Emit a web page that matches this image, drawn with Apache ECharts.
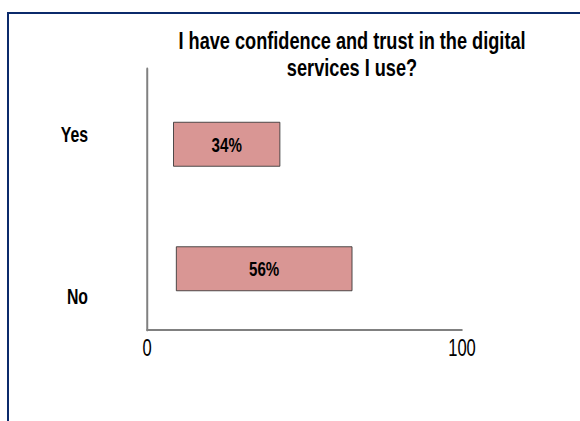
<!DOCTYPE html>
<html>
<head>
<meta charset="utf-8">
<script src="https://cdn.jsdelivr.net/npm/echarts@6/dist/echarts.min.js"></script>
<style>
  html, body { margin: 0; padding: 0; background: #fff; overflow: hidden; }
  #frame { position: absolute; left: 7px; top: 12px; width: 600px; height: 450px;
           border-left: 2px solid #0b2a6b; border-top: 2px solid #0b2a6b; }
  /* The chart is laid out wider and squeezed horizontally to get a narrow typeface look */
  #chart { position: absolute; left: 0; top: 0; height: 421px;
           transform-origin: 0 0; }
</style>
</head>
<body>
<div id="frame"></div>
<div id="chart"></div>
<script>
// Survey answers and their shares (percent)
const categories = ['Yes', 'No'];
const percentValues = [34, 56];
// Empty lead-in before each bar, in axis units
const leadGap = [8.3, 9.2];
// Value axis tick labels
const tickLabels = [0, 100];
const titleText = 'I have confidence and trust in the digital\nservices I use?';

const SQUEEZE = 0.72;
const TITLE_SQUEEZE = 0.79;
const W = 580 / SQUEEZE;
const px = function (x) { return x / SQUEEZE; };

const el = document.getElementById('chart');
el.style.width = W + 'px';
el.style.transform = 'scaleX(' + SQUEEZE + ')';

const FONT = '"Liberation Sans", Arial, sans-serif';
const chart = echarts.init(el, null, { renderer: 'svg', width: W, height: 421 });

chart.setOption({
  animation: false,
  graphic: [
    {
      type: 'text',
      x: px(352),
      y: 27,
      scaleX: TITLE_SQUEEZE / SQUEEZE,
      style: {
        text: titleText,
        align: 'center',
        verticalAlign: 'top',
        fontFamily: FONT,
        fontWeight: 'bold',
        fontSize: 23,
        lineHeight: 27,
        fill: '#000'
      }
    }
  ],
  grid: [
    { left: px(147), right: px(118), top: 69, bottom: 91 },
    { left: px(147), right: px(118), top: 82, height: 249 }
  ],
  xAxis: [
    {
      gridIndex: 0, type: 'value', min: tickLabels[0], max: tickLabels[1], interval: tickLabels[1] - tickLabels[0],
      axisLine: { show: true, lineStyle: { color: '#808080', width: 2 } },
      axisTick: { show: false }, splitLine: { show: false },
      axisLabel: { fontFamily: FONT, fontSize: 23, color: '#000', margin: 6 }
    },
    {
      gridIndex: 1, type: 'value', min: tickLabels[0], max: tickLabels[1], show: false
    }
  ],
  yAxis: [
    {
      gridIndex: 0, type: 'category', data: categories, inverse: true,
      axisLine: { show: true, lineStyle: { color: '#808080', width: 2 / SQUEEZE } },
      axisTick: { show: false },
      axisLabel: {
        margin: px(59),
        formatter: function (v, i) { return i === 1 ? '{low|' + v + '}' : '{up|' + v + '}'; },
        rich: {
          up: { fontFamily: FONT, fontWeight: 'bold', fontSize: 22, color: '#000' },
          low: { fontFamily: FONT, fontWeight: 'bold', fontSize: 22, color: '#000', padding: [64, 0, 0, 0] }
        }
      }
    },
    {
      gridIndex: 1, type: 'category', data: categories, inverse: true, show: false
    }
  ],
  series: [
    {
      type: 'bar', xAxisIndex: 1, yAxisIndex: 1, stack: 'share',
      data: leadGap, barWidth: 45,
      itemStyle: { color: 'rgba(0,0,0,0)' }, silent: true
    },
    {
      type: 'bar', xAxisIndex: 1, yAxisIndex: 1, stack: 'share',
      data: percentValues, barWidth: 45,
      itemStyle: { color: '#d99694', borderColor: '#333', borderWidth: 1 },
      label: {
        show: true, position: 'inside', formatter: '{c}%',
        fontFamily: FONT, fontWeight: 'bold', fontSize: 21, color: '#000'
      }
    }
  ]
});
</script>
</body>
</html>
